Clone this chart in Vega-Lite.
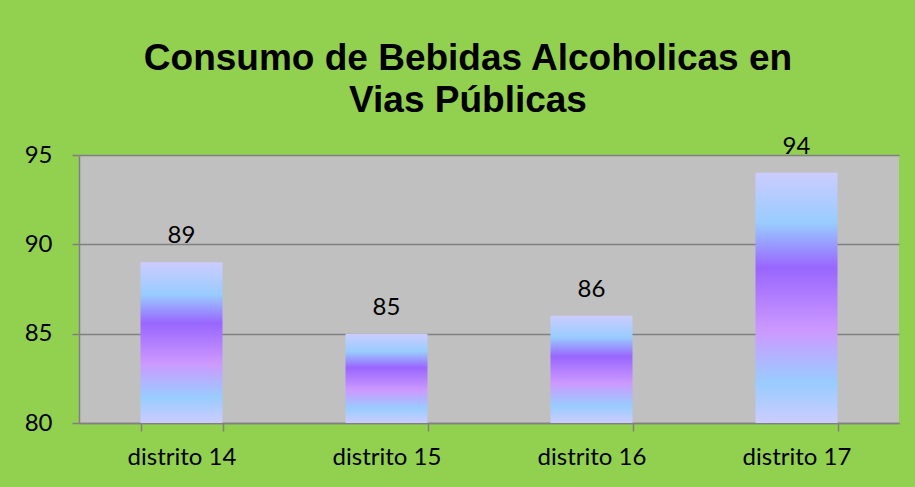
{
  "$schema": "https://vega.github.io/schema/vega-lite/v6.json",
  "autosize": "none",
  "width": 820,
  "height": 268,
  "padding": {"left": 79, "top": 155, "right": 16, "bottom": 64},
  "background": "#92D050",
  "title": {
    "text": ["Consumo de Bebidas Alcoholicas en", "Vias Públicas"],
    "font": "Liberation Sans",
    "fontSize": 37,
    "fontWeight": "bold",
    "color": "#000000",
    "lineHeight": 42,
    "anchor": "middle",
    "frame": "group",
    "dx": -21,
    "offset": 15
  },
  "data": {
    "values": [
      {"distrito": "distrito 14", "valor": 89},
      {"distrito": "distrito 15", "valor": 85},
      {"distrito": "distrito 16", "valor": 86},
      {"distrito": "distrito 17", "valor": 94}
    ]
  },
  "config": {
    "view": {"fill": "#C0C0C0", "stroke": null},
    "axis": {
      "labelFont": "Lato",
      "labelFontSize": 24,
      "labelColor": "#000000",
      "domainColor": "#808080",
      "domainWidth": 1.5,
      "tickColor": "#808080",
      "tickWidth": 1.5,
      "gridColor": "#808080",
      "gridWidth": 1.5,
      "title": null
    }
  },
  "encoding": {
    "x": {
      "field": "distrito",
      "type": "nominal",
      "sort": null,
      "scale": {"paddingInner": 0.6, "paddingOuter": 0.3},
      "axis": {"labelAngle": 0, "tickBand": "extent", "tickSize": 8, "labelPadding": 14, "grid": false}
    }
  },
  "layer": [
    {
      "mark": {
        "type": "bar",
        "color": {
          "gradient": "linear",
          "x1": 0, "y1": 0, "x2": 0, "y2": 1,
          "stops": [
            {"offset": 0, "color": "#CCCCFF"},
            {"offset": 0.2, "color": "#99CCFF"},
            {"offset": 0.38, "color": "#9966FF"},
            {"offset": 0.63, "color": "#CC99FF"},
            {"offset": 0.84, "color": "#99CCFF"},
            {"offset": 1, "color": "#CCCCFF"}
          ]
        }
      },
      "encoding": {
        "y": {
          "field": "valor",
          "type": "quantitative",
          "scale": {"domain": [80, 95], "zero": false, "nice": false},
          "axis": {"values": [80, 85, 90, 95], "tickSize": 7, "labelPadding": 20, "grid": true}
        },
        "y2": {"datum": 80}
      }
    },
    {
      "mark": {"type": "text", "font": "Lato", "fontSize": 24, "color": "#000000", "baseline": "alphabetic", "dy": -19},
      "encoding": {
        "y": {"field": "valor", "type": "quantitative"},
        "text": {"field": "valor", "type": "quantitative"}
      }
    }
  ]
}
